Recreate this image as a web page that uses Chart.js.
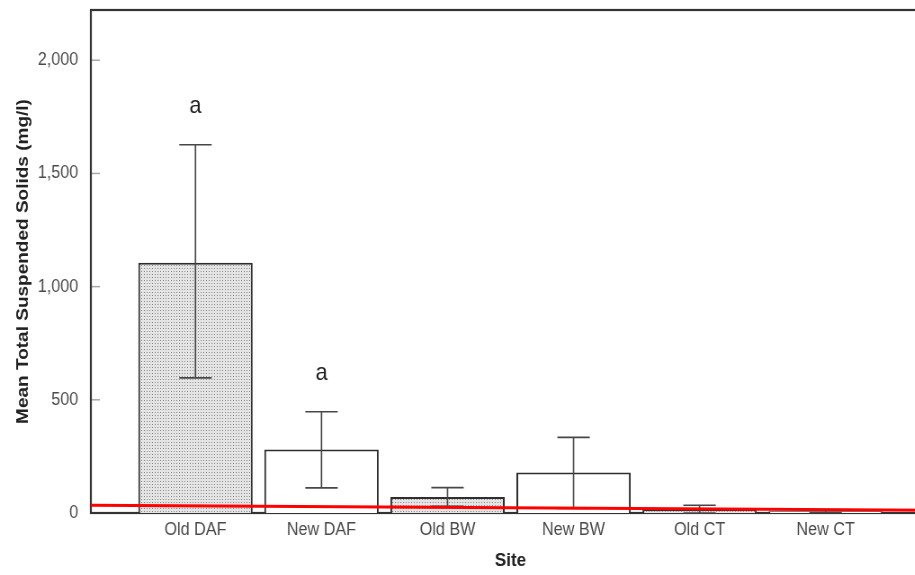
<!DOCTYPE html>
<html>
<head>
<meta charset="utf-8">
<script src="https://cdn.jsdelivr.net/npm/chart.js@4.4.1/dist/chart.umd.min.js"></script>
<style>
  html, body { margin: 0; padding: 0; background: #fff; overflow: hidden; }
  #tss { display: block; }
</style>
</head>
<body>
<!-- drawn 1036 wide and shown at 932px: the original figure is squeezed horizontally -->
<canvas id="tss" width="1036" height="575" style="width:932px;height:575px"></canvas>
<script>
const sites = ['Old DAF', 'New DAF', 'Old BW', 'New BW', 'Old CT', 'New CT'];
const meanTss = [1106, 280, 71, 179, 15, 8];
const ciLow = [597, 111, 30, 20, 0, 2];
const ciHigh = [1627, 447, 112, 334, 34, 12];
const letters = ['a', 'a', '', '', '', ''];
const yTicks = [0, 500, 1000, 1500, 2000];
const yTickLabels = ['0', '500', '1,000', '1,500', '2,000'];
const limitLine = [34, 12]; // red line, value at left and right edge

const xMin = -0.83, xMax = 5.83;

Chart.defaults.font.family = "'Liberation Sans', Arial, sans-serif";

const ctx = document.getElementById('tss').getContext('2d');

// grey dotted fill used by the "Old" sites
function dotPattern() {
    const c = document.createElement('canvas');
    c.width = 3;
    c.height = 3;
    const g = c.getContext('2d');
    g.fillStyle = '#e4e4e4';
    g.fillRect(0, 0, 3, 3);
    g.fillStyle = '#858585';
    g.fillRect(1, 1, 1, 1);
    return ctx.createPattern(c, 'repeat');
}
const dots = dotPattern();

const extras = {
    id: 'extras',
    beforeDatasetsDraw(chart) {
        const {ctx, chartArea: a, scales: {y}} = chart;
        ctx.save();
        // small ticks inside the frame
        ctx.strokeStyle = '#a8a8a8';
        ctx.lineWidth = 1.5;
        yTicks.forEach(v => {
            const py = y.getPixelForValue(v);
            ctx.beginPath();
            ctx.moveTo(a.left + 1, py);
            ctx.lineTo(a.left + 10, py);
            ctx.stroke();
        });
        // frame
        ctx.strokeStyle = '#333';
        ctx.lineWidth = 2.2;
        ctx.strokeRect(a.left, a.top, a.right - a.left, a.bottom - a.top);
        ctx.restore();
    },
    afterDatasetDraw(chart, args) {
        if (args.index !== 0) return;
        const {ctx, scales: {x, y}} = chart;
        const cap = 18;
        ctx.save();
        ctx.strokeStyle = '#474747';
        ctx.lineWidth = 1.6;
        ctx.fillStyle = '#1e1e1e';
        ctx.font = "24px 'Liberation Sans', Arial, sans-serif";
        ctx.textAlign = 'center';
        ctx.textBaseline = 'middle';
        sites.forEach((s, i) => {
            const px = x.getPixelForValue(i);
            const top = y.getPixelForValue(ciHigh[i]);
            const bot = y.getPixelForValue(ciLow[i]);
            ctx.beginPath();
            ctx.moveTo(px, top);
            ctx.lineTo(px, bot);
            ctx.moveTo(px - cap, top);
            ctx.lineTo(px + cap, top);
            ctx.moveTo(px - cap, bot);
            ctx.lineTo(px + cap, bot);
            ctx.stroke();
            if (letters[i]) {
                ctx.fillText(letters[i], px, top - 38);
            }
        });
        ctx.restore();
    }
};

function noEdgePadding(s) {
    s.paddingTop = 0;
    s.paddingBottom = 0;
    s.paddingLeft = 0;
    s.paddingRight = 0;
}

new Chart(ctx, {
    type: 'bar',
    data: {
        datasets: [{
                type: 'bar',
                data: sites.map((s, i) => ({x: i, y: meanTss[i]})),
                backgroundColor: sites.map(s => s.startsWith('Old') ? dots : '#ffffff'),
                borderColor: '#2e2e2e',
                borderWidth: 2,
                barPercentage: 0.907,
                categoryPercentage: 1,
                order: 2
            }, {
                type: 'line',
                data: [{x: xMin, y: limitLine[0]}, {x: xMax, y: limitLine[1]}],
                borderColor: '#ff0000',
                borderWidth: 3,
                pointRadius: 0,
                order: 1
            }
        ]
    },
    options: {
        responsive: false,
        animation: false,
        devicePixelRatio: 1,
        layout: {padding: {top: 10, right: 2, left: 0, bottom: 0}},
        plugins: {legend: {display: false}, tooltip: {enabled: false}},
        scales: {
            x: {
                type: 'linear',
                min: xMin,
                max: xMax,
                offset: false,
                grid: {display: false},
                border: {display: false},
                afterBuildTicks: s => { s.ticks = sites.map((n, i) => ({value: i})); },
                afterFit: s => { s.height = 62; noEdgePadding(s); },
                ticks: {
                    autoSkip: false,
                    maxRotation: 0,
                    padding: -2,
                    color: '#4a4a4a',
                    font: {size: 18},
                    callback: (v, i) => sites[i]
                },
                title: {
                    display: true,
                    text: 'Site',
                    color: '#222',
                    font: {size: 19, weight: 'bold'},
                    padding: {top: 0, bottom: 3}
                }
            },
            y: {
                min: 0,
                max: 2222,
                grid: {display: false},
                border: {display: false},
                afterBuildTicks: s => { s.ticks = yTicks.map(v => ({value: v})); },
                afterFit: s => { s.width = 101; noEdgePadding(s); },
                ticks: {
                    padding: 6,
                    color: '#4a4a4a',
                    font: {size: 18},
                    callback: (v, i) => yTickLabels[i]
                },
                title: {
                    display: true,
                    text: 'Mean Total Suspended Solids (mg/l)',
                    color: '#222',
                    font: {size: 19, weight: 'bold'},
                    padding: {top: 14, bottom: 0}
                }
            }
        }
    },
    plugins: [extras]
});
</script>
</body>
</html>
